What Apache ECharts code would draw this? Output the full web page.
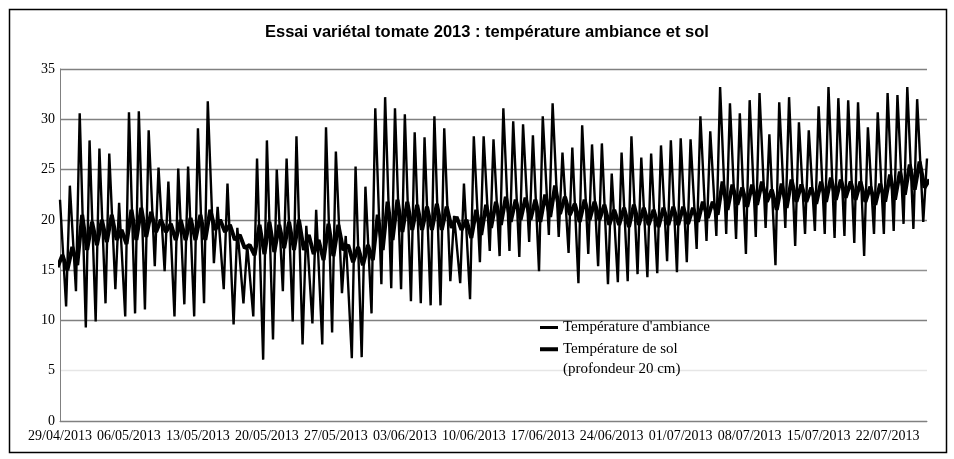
<!DOCTYPE html>
<html><head><meta charset="utf-8">
<script src="https://cdn.jsdelivr.net/npm/echarts@6/dist/echarts.min.js"></script>
<style>html,body{margin:0;padding:0;background:#fff}#c{width:954px;height:459px}</style>
</head><body><div id="c"></div>
<script>
// x tick labels (every 7 days from 29/04/2013)
const tickLabels = ['29/04/2013','06/05/2013','13/05/2013','20/05/2013','27/05/2013','03/06/2013','10/06/2013','17/06/2013','24/06/2013','01/07/2013','08/07/2013','15/07/2013','22/07/2013'];
const seriesNames = ["Température d'ambiance", "Température de sol\n(profondeur 20 cm)"];

// Ambient temperature: daily maxima (one per day) and following minima
const ambMax = [22.0,23.4,30.6,27.9,27.1,26.6,21.7,30.7,30.8,28.9,
  25.2,23.8,25.1,25.3,29.1,31.8,21.3,23.6,19.2,17.5,
  26.1,27.9,25.0,26.1,28.3,19.4,21.0,29.2,26.8,18.4,
  25.3,23.3,31.1,32.2,31.1,30.5,28.7,28.2,30.3,29.1,
  20.4,23.6,28.3,28.3,28.0,31.1,29.8,29.5,28.4,30.3,
  31.6,26.7,27.2,29.4,27.5,27.6,24.6,26.7,28.3,26.2,
  26.6,27.4,27.9,28.1,28.0,30.3,28.8,33.2,31.6,30.6,
  31.9,32.6,28.5,31.7,32.2,29.7,28.9,31.3,33.2,32.1,
  31.9,31.7,29.2,30.7,32.6,32.4,33.2,32.0,26.1];
const ambMin = [11.4,12.9,9.3,9.9,11.7,13.1,10.4,10.7,11.1,15.4,
  14.9,10.4,11.6,10.4,11.7,15.7,13.1,9.6,11.7,10.4,
  6.1,8.1,12.9,9.9,7.6,9.7,7.6,8.8,12.7,6.25,
  6.35,10.7,13.6,13.2,13.1,11.9,11.7,11.5,11.5,13.9,
  13.7,12.1,15.8,16.9,16.4,16.9,16.3,17.8,14.9,18.5,
  18.3,16.7,13.7,16.6,15.4,13.6,13.8,13.9,14.6,14.3,
  14.7,15.9,14.8,15.8,17.1,17.9,18.4,18.6,18.1,16.6,
  18.3,19.2,15.5,19.2,17.4,18.6,18.9,18.6,18.2,18.4,
  17.7,16.4,18.6,18.6,18.9,19.6,19.1,19.8];

// Soil temperature (20 cm): morning lows and evening highs
const soilMorn = [15.3,
  15.0,15.5,17.0,17.5,17.8,18.0,17.6,18.0,18.3,18.8,
  18.8,18.0,18.0,18.0,18.0,19.0,18.8,18.0,17.2,16.5,
  16.6,16.8,17.2,17.0,17.0,16.6,16.0,16.4,17.0,15.8,
  15.5,16.0,17.0,18.0,18.8,19.0,19.0,19.0,19.0,19.2,
  19.0,18.2,18.5,19.2,19.5,19.8,20.0,20.0,19.8,20.3,
  20.6,20.5,19.8,20.0,20.0,19.5,19.5,19.3,19.5,19.5,
  19.3,19.5,19.5,19.6,19.8,20.2,20.5,21.0,21.5,21.3,
  21.5,21.8,21.0,21.2,21.8,21.8,21.6,21.8,22.0,22.2,
  22.0,21.8,21.5,21.8,22.0,22.5,23.0,23.2];
const soilEve = [16.5,17.3,20.5,19.8,20.0,20.5,19.0,21.0,21.2,20.8,
  20.0,19.6,20.0,20.2,20.5,21.0,20.0,19.5,18.5,17.5,
  19.5,19.8,19.5,19.8,20.0,18.5,18.0,19.6,19.5,17.5,
  17.3,17.5,20.5,21.8,22.0,21.8,21.5,21.3,21.6,21.3,
  20.3,20.0,21.0,21.5,21.8,22.3,22.0,22.2,22.0,22.5,
  23.4,22.3,21.6,22.0,21.8,21.5,21.0,21.2,21.5,21.2,
  21.0,21.2,21.3,21.3,21.2,21.8,21.8,23.8,23.5,23.2,
  23.5,23.8,23.0,23.6,24.0,23.5,23.2,23.8,24.2,24.0,
  23.8,23.8,23.3,23.6,24.5,24.8,25.5,25.8,24.0];

const ambData = [];
for (let k = 0; k < ambMax.length; k++) {
  ambData.push([k, ambMax[k]]);
  if (k < ambMin.length) ambData.push([k + 0.62, ambMin[k]]);
}
const soilData = [];
for (let k = 0; k < soilMorn.length; k++) {
  soilData.push([k - 0.25, soilMorn[k]]);
  if (k < soilEve.length) soilData.push([k + 0.25, soilEve[k]]);
}

const serif = 'Liberation Serif';
const chart = echarts.init(document.getElementById('c'), null, {renderer: 'canvas'});
chart.setOption({
  animation: false,
  backgroundColor: '#fff',
  title: {
    text: 'Essai variétal tomate 2013 : température ambiance et sol',
    left: 265, top: 24, padding: 0,
    textStyle: {fontFamily: 'Liberation Sans', fontWeight: 'bold', fontSize: 16.5, color: '#000'}
  },
  graphic: [{
    type: 'rect', silent: true, z: -1,
    shape: {x: 9.5, y: 9.5, width: 937, height: 443},
    style: {fill: 'none', stroke: '#000', lineWidth: 1.5}
  }],
  legend: [{
    data: [seriesNames[0]], orient: 'vertical', left: 540, top: 320, padding: 0,
    icon: 'rect', itemWidth: 18, itemHeight: 3, itemGap: 0,
    textStyle: {fontFamily: serif, fontSize: 15, color: '#000'}
  }, {
    data: [seriesNames[1]], orient: 'vertical', left: 540, top: 320, padding: 0,
    icon: 'rect', itemWidth: 18, itemHeight: 4, itemGap: 0,
    formatter: n => '\u00a0\n' + n,
    textStyle: {fontFamily: serif, fontSize: 15, lineHeight: 19.5, color: '#000'}
  }],
  grid: {left: 60, right: 27, top: 69, bottom: 38, containLabel: false},
  xAxis: {
    type: 'value', min: 0, max: 88, interval: 7,
    axisLine: {show: true, lineStyle: {color: '#808080', width: 1}},
    axisTick: {show: false},
    splitLine: {show: false},
    axisLabel: {
      fontFamily: serif, fontSize: 14, color: '#000', margin: 8,
      formatter: v => (v % 7 === 0 && tickLabels[v / 7]) ? tickLabels[v / 7] : ''
    }
  },
  yAxis: {
    type: 'value', min: 0, max: 35, interval: 5,
    axisLine: {show: true, lineStyle: {color: '#808080', width: 1}},
    axisTick: {show: false},
    axisLabel: {fontFamily: serif, fontSize: 14, color: '#000', margin: 5},
    splitLine: {show: true, lineStyle: {color: ['#808080','#e6e6e6','#808080','#909090','#808080','#808080','#808080','#808080'], width: 1.3}}
  },
  series: [{
    name: seriesNames[0], type: 'line', data: ambData, showSymbol: false, symbol: 'none',
    lineStyle: {color: '#000', width: 2.4}, itemStyle: {color: '#000'}, z: 3
  }, {
    name: seriesNames[1], type: 'line', data: soilData, showSymbol: false, symbol: 'none',
    lineStyle: {color: '#000', width: 4}, itemStyle: {color: '#000'}, z: 4
  }]
});
</script></body></html>
